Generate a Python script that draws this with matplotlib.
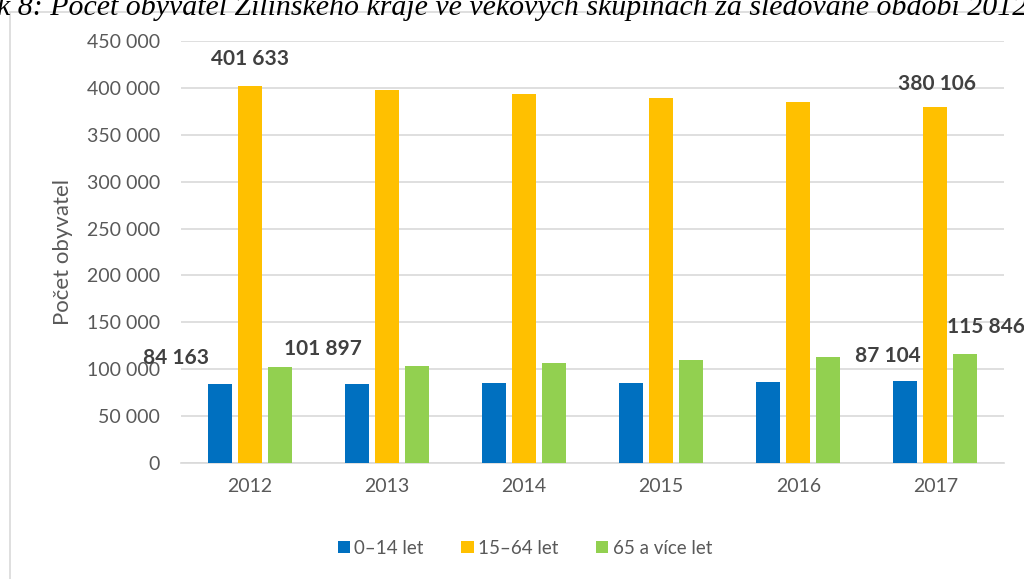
import matplotlib
matplotlib.use("Agg")
import matplotlib.pyplot as plt
import numpy as np
from matplotlib.patches import Rectangle
from matplotlib.ticker import FuncFormatter

# data
years = ['2012', '2013', '2014', '2015', '2016', '2017']
age_0_14 = [84163, 84300, 84800, 85500, 86200, 87104]
age_15_64 = [401633, 397400, 393100, 389000, 384500, 380106]
age_65 = [101897, 103800, 107000, 110200, 113100, 115846]
series_names = ['0–14 let', '15–64 let', '65 a více let']
colors = ['#0070C0', '#FFC000', '#92D050']

plt.rcParams['font.family'] = ['Lato', 'DejaVu Sans']

fig = plt.figure(figsize=(10.24, 5.79), dpi=100)
ax = fig.add_axes([181/1024, 1-463/579, (1004-181)/1024, (463-41)/579])

# outer chart frame (partly off the page)
fig.patches.append(Rectangle((10/1024, -0.1), 1.2, 1-12/579+0.1, transform=fig.transFigure,
                             fill=False, edgecolor='#d9d9d9', linewidth=1.2))

# cut-off caption at the top
fig.text(-3/1024, 1-15/579,
         'k 8: Počet obyvatel Žilinského kraje ve věkových skupinách za sledované období 2012',
         family='Liberation Serif', style='italic', fontsize=21.5, va='baseline', ha='left')

x = np.arange(len(years))
w = 0.175
step = 0.219
for i, (vals, c, name) in enumerate(zip([age_0_14, age_15_64, age_65], colors, series_names)):
    ax.bar(x + (i-1)*step, vals, width=w, color=c, label=name, zorder=3)

# data labels only on first and last year
lbl = dict(fontsize=15, fontweight='bold', color='#404040', ha='center', va='center',
           textcoords='offset points')
def fmt(v):
    return '{:,}'.format(v).replace(',', ' ')

ax.annotate(fmt(age_0_14[0]), (x[0]-step, age_0_14[0]), xytext=(-31, 19), **lbl)
ax.annotate(fmt(age_15_64[0]), (x[0], age_15_64[0]), xytext=(0, 20), **lbl)
ax.annotate(fmt(age_65[0]), (x[0]+step, age_65[0]), xytext=(31, 13), **lbl)
ax.annotate(fmt(age_0_14[-1]), (x[-1]-step, age_0_14[-1]), xytext=(-13, 18), **lbl)
ax.annotate(fmt(age_15_64[-1]), (x[-1], age_15_64[-1]), xytext=(1, 16), **lbl)
ax.annotate(fmt(age_65[-1]), (x[-1]+step, age_65[-1]), xytext=(15, 20), **lbl)

ax.set_xlim(-0.5, 5.5)
ax.set_ylim(0, 450000)
ax.set_yticks(np.arange(0, 450001, 50000))
ax.yaxis.set_major_formatter(FuncFormatter(lambda v, p: fmt(int(v))))
ax.set_xticks(x)
ax.set_xticklabels(years)
ax.grid(axis='y', color='#d9d9d9', linewidth=1.2, zorder=0)
for s in ['top', 'right', 'left']:
    ax.spines[s].set_visible(False)
ax.spines['bottom'].set_color('#d9d9d9')
ax.spines['bottom'].set_linewidth(1.2)
ax.tick_params(axis='both', length=0, labelsize=14, colors='#595959', pad=11)
ax.tick_params(axis='y', pad=15)
ax.set_ylabel('Počet obyvatel', fontsize=16, color='#595959', labelpad=10)

fig.legend(loc='center', bbox_to_anchor=(525/1024, 1-548/579), ncol=3, frameon=False,
           handlelength=0.65, handleheight=0.65, handletextpad=0.25, columnspacing=2.0,
           fontsize=13.5, labelcolor='#595959')

fig.savefig('out.png', dpi=100)
